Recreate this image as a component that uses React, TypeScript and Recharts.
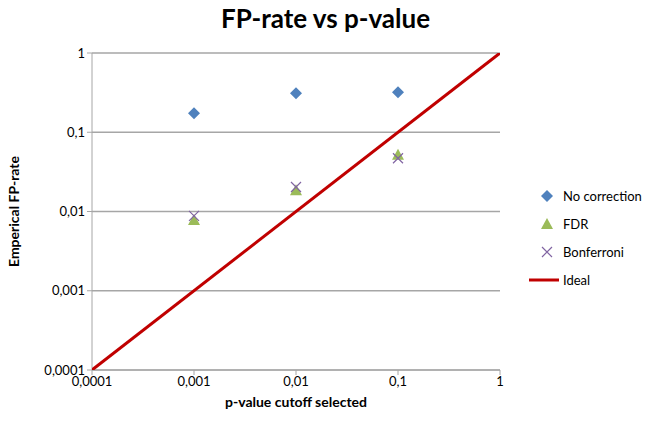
import React from "react";
import { ScatterChart, Scatter, XAxis, YAxis, CartesianGrid, Label } from "recharts";

const pCutoffs = [0.001, 0.01, 0.1];
const noCorrection = [0.174, 0.31, 0.32];
const fdr = [0.0078, 0.0186, 0.052];
const bonferroni = [0.0088, 0.0204, 0.047];
const idealRange = [0.0001, 1];
const logTicks = [0.0001, 0.001, 0.01, 0.1, 1];

const FONT = "Lato, 'Open Sans', sans-serif";

const toPoints = (ys: number[]) => pCutoffs.map((x, i) => ({ x, y: ys[i] }));
const idealPoints = idealRange.map((v) => ({ x: v, y: v }));

const fmt = (v: number) => String(v).replace(".", ",");

const Diamond = ({ cx, cy }: any) => (
  <path d={`M${cx},${cy - 6}L${cx + 6},${cy}L${cx},${cy + 6}L${cx - 6},${cy}Z`} fill="#4f81bd" />
);
const Triangle = ({ cx, cy }: any) => (
  <path d={`M${cx},${cy - 6}L${cx + 6},${cy + 5}L${cx - 6},${cy + 5}Z`} fill="#9bbb59" />
);
const Cross = ({ cx, cy }: any) => (
  <path
    d={`M${cx - 5},${cy - 5}L${cx + 5},${cy + 5}M${cx + 5},${cy - 5}L${cx - 5},${cy + 5}`}
    stroke="#8064a2"
    strokeWidth={1.2}
    fill="none"
  />
);
const Nothing = () => <g />;

const legendRows = [
  { name: "No correction", icon: <Diamond cx={10} cy={8} /> },
  { name: "FDR", icon: <Triangle cx={10} cy={8} /> },
  { name: "Bonferroni", icon: <Cross cx={10} cy={8} /> },
  { name: "Ideal", icon: <line x1={-8} y1={8} x2={22} y2={8} stroke="#c00000" strokeWidth={3} /> },
];

// legend sits beside the plot, drawn as plain HTML so it doesn't eat plot width
const ChartLegend = () => (
  <div style={{ position: "absolute", left: 537, top: 182, fontFamily: FONT, fontSize: 13, color: "#000" }}>
    {legendRows.map((r) => (
      <div key={r.name} style={{ display: "flex", alignItems: "center", height: 28 }}>
        <svg width={24} height={16} style={{ overflow: "visible" }}>
          {r.icon}
        </svg>
        <span style={{ marginLeft: 2 }}>{r.name}</span>
      </div>
    ))}
  </div>
);

export default function App() {
  return (
    <div style={{ position: "absolute", left: 0, top: 0, width: 651, height: 424, background: "#fff" }}>
      <div
        style={{
          position: "absolute",
          top: 2,
          left: 0,
          width: 651,
          textAlign: "center",
          fontFamily: FONT,
          fontWeight: 700,
          fontSize: 26,
        }}
      >
        FP-rate vs p-value
      </div>
      <ScatterChart width={651} height={424} margin={{ top: 53, right: 151, bottom: 24, left: 32 }}>
        <CartesianGrid horizontal vertical={false} stroke="#a6a6a6" strokeWidth={1.3} />
        <XAxis
          dataKey="x"
          type="number"
          scale="log"
          domain={[0.0001, 1]}
          ticks={logTicks}
          tickFormatter={fmt}
          allowDataOverflow
          height={30}
          stroke="#a6a6a6"
          tickSize={5}
          tick={{ fill: "#000", fontSize: 13, fontFamily: FONT }}
        >
          <Label
            value="p-value cutoff selected"
            position="bottom"
            offset={-3}
            style={{ fontFamily: FONT, fontWeight: 700, fontSize: 14, fill: "#000" }}
          />
        </XAxis>
        <YAxis
          dataKey="y"
          type="number"
          scale="log"
          domain={[0.0001, 1]}
          ticks={logTicks}
          tickFormatter={fmt}
          allowDataOverflow
          width={60}
          stroke="#a6a6a6"
          tickSize={5}
          tick={{ fill: "#000", fontSize: 13, fontFamily: FONT }}
        >
          <Label
            value="Emperical FP-rate"
            angle={-90}
            position="insideLeft"
            offset={-18}
            style={{ textAnchor: "middle", fontFamily: FONT, fontWeight: 700, fontSize: 14, fill: "#000" }}
          />
        </YAxis>
        <Scatter name="No correction" data={toPoints(noCorrection)} shape={Diamond} isAnimationActive={false} />
        <Scatter name="FDR" data={toPoints(fdr)} shape={Triangle} isAnimationActive={false} />
        <Scatter name="Bonferroni" data={toPoints(bonferroni)} shape={Cross} isAnimationActive={false} />
        <Scatter
          name="Ideal"
          data={idealPoints}
          shape={Nothing}
          line={{ stroke: "#c00000", strokeWidth: 3 }}
          isAnimationActive={false}
        />
      </ScatterChart>
      <ChartLegend />
    </div>
  );
}
